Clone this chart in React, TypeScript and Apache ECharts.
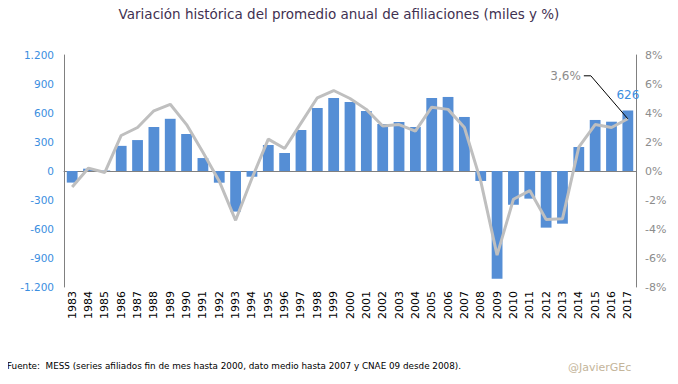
import React, { useEffect, useRef } from "react";
import * as echarts from "echarts";

const years = ["1983","1984","1985","1986","1987","1988","1989","1990","1991","1992","1993","1994","1995","1996","1997","1998","1999","2000","2001","2002","2003","2004","2005","2006","2007","2008","2009","2010","2011","2012","2013","2014","2015","2016","2017"];
const afiliaciones = [-120, 24, 5, 260, 320, 455, 540, 383, 134, -121, -420, -59, 269, 186, 424, 652, 755, 714, 621, 486, 507, 455, 755, 766, 559, -103, -1114, -348, -286, -586, -545, 248, 528, 510, 626];
const variacion = [-1.1, 0.2, -0.1, 2.45, 3.0, 4.15, 4.6, 3.2, 1.3, -0.7, -3.4, -0.5, 2.2, 1.55, 3.3, 5.05, 5.55, 5.0, 4.25, 3.1, 3.2, 2.75, 4.4, 4.25, 3.0, -0.7, -5.8, -1.95, -1.35, -3.35, -3.3, 1.65, 3.2, 3.0, 3.6];
const leftTicks = { min: -1200, max: 1200, interval: 300 };
const rightTicks = { min: -8, max: 8, interval: 2 };

const FONT = "DejaVu Sans";

export default function App() {
  const ref = useRef<HTMLDivElement>(null);
  useEffect(() => {
    const chart = echarts.init(ref.current!, null, { renderer: "svg" });
    const last = years.length - 1;
    chart.setOption({
      animation: false,
      backgroundColor: "#ffffff",
      textStyle: { fontFamily: FONT },
      title: [
        {
          text: "Variación histórica del promedio anual de afiliaciones (miles y %)",
          left: "center",
          top: 2,
          textStyle: { fontFamily: FONT, fontSize: 13.5, fontWeight: "normal", color: "#3f3151" },
        },
        {
          text: "Fuente:  MESS (series afiliados fin de mes hasta 2000, dato medio hasta 2007 y CNAE 09 desde 2008).",
          left: 7,
          top: 361,
          padding: 0,
          textStyle: { fontFamily: FONT, fontSize: 8.8, fontWeight: "normal", color: "#000000" },
        },
        {
          text: "@JavierGEc",
          left: 568,
          top: 362,
          padding: 0,
          textStyle: { fontFamily: FONT, fontSize: 11, fontWeight: "normal", color: "#c4b59a" },
        },
      ],
      grid: { left: 64, right: 42, top: 55, bottom: 97, containLabel: false },
      xAxis: {
        type: "category",
        data: years,
        axisLine: { show: true, onZero: true, lineStyle: { color: "#808080", width: 1 } },
        axisTick: { show: false },
        axisLabel: {
          rotate: 90,
          interval: 0,
          color: "#000000",
          fontSize: 11,
          fontFamily: FONT,
          margin: 4,
        },
        position: "bottom",
      },
      yAxis: [
        {
          type: "value",
          min: leftTicks.min,
          max: leftTicks.max,
          interval: leftTicks.interval,
          axisLine: { show: true, lineStyle: { color: "#808080" } },
          axisTick: { show: false },
          splitLine: { show: false },
          axisLabel: {
            color: "#3b8ee0",
            fontSize: 10.5,
            fontFamily: FONT,
            margin: 10,
            formatter: (v: number) => {
              const s = Math.abs(v).toString().replace(/\B(?=(\d{3})+(?!\d))/g, ".");
              return (v < 0 ? "-" : "") + s;
            },
          },
        },
        {
          type: "value",
          min: rightTicks.min,
          max: rightTicks.max,
          interval: rightTicks.interval,
          position: "right",
          axisLine: { show: true, lineStyle: { color: "#808080" } },
          axisTick: { show: false },
          splitLine: { show: false },
          axisLabel: {
            color: "#8c8c8c",
            fontSize: 11,
            fontFamily: FONT,
            margin: 9,
            formatter: (v: number) => v + "%",
          },
        },
      ],
      series: [
        {
          type: "bar",
          yAxisIndex: 0,
          barCategoryGap: "34%",
          itemStyle: { color: "#558ed5" },
          data: afiliaciones.map((v, i) =>
            i === last
              ? {
                  value: v,
                  label: {
                    show: true,
                    position: "top",
                    distance: 9,
                    color: "#3b8ee0",
                    fontSize: 12,
                    fontFamily: FONT,
                    formatter: String(v),
                  },
                }
              : v
          ),
        },
        {
          type: "line",
          yAxisIndex: 1,
          symbol: "none",
          showSymbol: false,
          lineStyle: { color: "#bfbfbf", width: 3 },
          itemStyle: { color: "#bfbfbf" },
          z: 3,
          data: variacion,
        },
      ],
    });

    const [px, py] = chart.convertToPixel({ seriesIndex: 1 }, [last, variacion[last]]) as number[];
    const ly = py - 43;
    chart.setOption({
      graphic: [
        {
          type: "text",
          id: "annot",
          x: px - 47,
          y: ly,
          style: {
            text: String(variacion[last]).replace(".", ",") + "%",
            fontSize: 12,
            fontFamily: FONT,
            fill: "#8c8c8c",
            align: "right",
            verticalAlign: "middle",
          },
          z: 10,
        },
        {
          type: "polyline",
          id: "leader",
          shape: { points: [[px - 44, ly], [px - 37, ly], [px, py]] },
          style: { stroke: "#000000", lineWidth: 1, fill: null },
          z: 10,
        },
      ],
    });
    return () => chart.dispose();
  }, []);
  return <div ref={ref} style={{ width: 678, height: 384, margin: -8 }} />;
}
